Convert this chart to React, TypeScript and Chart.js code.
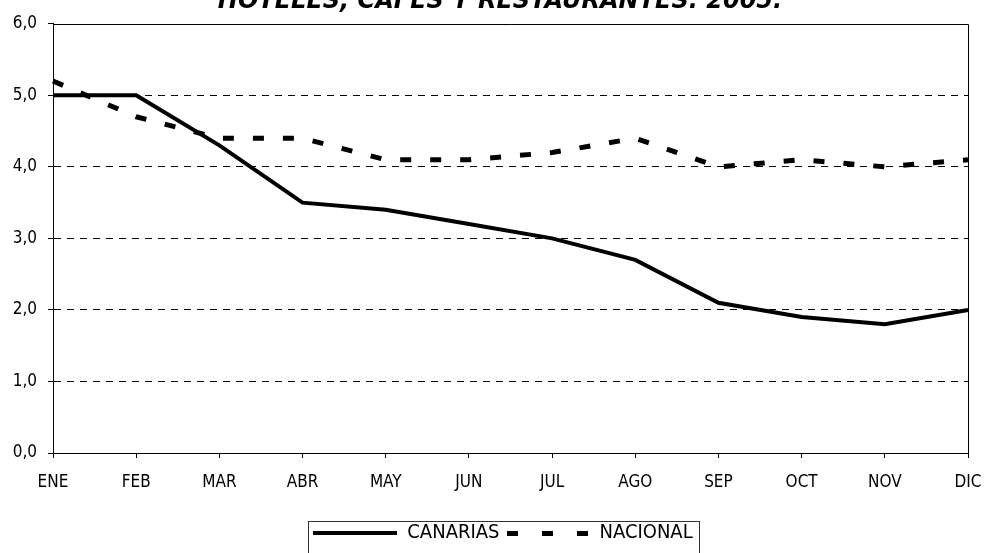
import { useEffect, useRef } from 'react';
import { Chart, registerables } from 'chart.js';
Chart.register(...registerables);

const months = ['ENE', 'FEB', 'MAR', 'ABR', 'MAY', 'JUN', 'JUL', 'AGO', 'SEP', 'OCT', 'NOV', 'DIC'];
const canarias = [5.0, 5.0, 4.3, 3.5, 3.4, 3.2, 3.0, 2.7, 2.1, 1.9, 1.8, 2.0];
const nacional = [5.2, 4.7, 4.4, 4.4, 4.1, 4.1, 4.2, 4.4, 4.0, 4.1, 4.0, 4.1];
const yTicks = [0, 1, 2, 3, 4, 5, 6];
const seriesNames = ['CANARIAS', 'NACIONAL'];
const titleText = 'HOTELES, CAFES Y RESTAURANTES. 2005.';

const FONT = '"DejaVu Sans Condensed", "DejaVu Sans", sans-serif';

function makeSample(dashed: boolean): HTMLCanvasElement {
  const c = document.createElement('canvas');
  c.width = dashed ? 81 : 84;
  c.height = dashed ? 5 : 4;
  const g = c.getContext('2d')!;
  g.fillStyle = '#000';
  if (dashed) {
    for (let i = 0; i < 3; i++) g.fillRect(i * 35, 0, 11, 5);
  } else {
    g.fillRect(0, 0, 84, 4);
  }
  return c;
}

const framePlugin = {
  id: 'frame',
  afterLayout(chart: any) {
    const lg = chart.legend;
    if (lg) {
      lg.left += 19;
      lg.right += 19;
    }
    const tb = chart.titleBlock;
    if (tb) {
      tb.left += 16;
      tb.right += 16;
    }
  },
  beforeDatasetsDraw(chart: any) {
    const { ctx, chartArea: a } = chart;
    ctx.save();
    ctx.strokeStyle = '#000';
    ctx.lineWidth = 1;
    ctx.setLineDash([]);
    ctx.beginPath();
    ctx.moveTo(a.left, Math.round(a.top) + 0.5);
    ctx.lineTo(Math.round(a.right) + 0.5, Math.round(a.top) + 0.5);
    ctx.lineTo(Math.round(a.right) + 0.5, a.bottom);
    ctx.stroke();
    ctx.restore();
  },
};

const legendBoxPlugin = {
  id: 'legendBox',
  afterDraw(chart: any) {
    const lg = chart.legend;
    if (!lg || !lg.legendHitBoxes || !lg.legendHitBoxes.length) return;
    const hb = lg.legendHitBoxes;
    const l = hb[0].left - 5;
    const last = hb[hb.length - 1];
    const r = last.left + last.width + 7;
    const t = lg.top + 4;
    const { ctx } = chart;
    ctx.save();
    ctx.strokeStyle = '#333';
    ctx.lineWidth = 1;
    ctx.setLineDash([]);
    ctx.strokeRect(Math.round(l) + 0.5, Math.round(t) + 0.5, Math.round(r - l), 80);
    ctx.restore();
  },
};

export default function App() {
  const ref = useRef<HTMLCanvasElement>(null);
  useEffect(() => {
    if (!ref.current) return;
    Chart.defaults.color = '#000';
    const samples = [makeSample(false), makeSample(true)];
    const chart = new Chart(ref.current, {
      type: 'line',
      data: {
        labels: months,
        datasets: [
          {
            label: seriesNames[0],
            data: canarias,
            borderColor: '#000',
            backgroundColor: '#000',
            borderWidth: 4,
            pointRadius: 0,
            tension: 0,
            fill: false,
          },
          {
            label: seriesNames[1],
            data: nacional,
            borderColor: '#000',
            backgroundColor: '#000',
            borderWidth: 5,
            borderDash: [11, 19],
            pointRadius: 0,
            tension: 0,
            fill: false,
          },
        ],
      },
      options: {
        animation: false,
        responsive: true,
        maintainAspectRatio: false,
        layout: { padding: { left: 0, right: 17, top: 0, bottom: 0 } },
        plugins: {
          tooltip: { enabled: false },
          title: {
            display: true,
            text: titleText,
            color: '#000',
            font: { family: '"DejaVu Sans", sans-serif', size: 24, weight: 'bold', style: 'italic' },
            padding: { top: 7, bottom: 8 },
          },
          legend: {
            display: true,
            position: 'bottom',
            labels: {
              usePointStyle: true,
              pointStyleWidth: 84,
              color: '#000',
              font: { family: FONT, size: 20 },
              padding: 6,
              generateLabels: (ch: any) => {
                const items = (Chart.defaults.plugins.legend.labels as any).generateLabels(ch);
                return items.map((it: any, i: number) => ({ ...it, pointStyle: samples[i % samples.length] }));
              },
            },
          },
        },
        scales: {
          x: {
            type: 'category',
            offset: false,
            afterFit: (s: any) => {
              s.height = 64;
              s.paddingLeft = 0;
              s.paddingRight = 0;
            },
            grid: {
              drawOnChartArea: false,
              drawTicks: true,
              tickLength: 5,
              tickColor: '#000',
            },
            border: { display: true, color: '#000', width: 1 },
            ticks: {
              color: '#000',
              font: { family: FONT, size: 17 },
              padding: 14,
              maxRotation: 0,
              autoSkip: false,
            },
          },
          y: {
            min: yTicks[0],
            max: yTicks[yTicks.length - 1],
            afterBuildTicks: (s: any) => {
              s.ticks = yTicks.map((v) => ({ value: v }));
            },
            afterFit: (s: any) => {
              s.width = 53;
            },
            grid: {
              color: (c: any) =>
                c.tick && (c.tick.value === yTicks[0] || c.tick.value === yTicks[yTicks.length - 1])
                  ? 'rgba(0,0,0,0)'
                  : '#000',
              tickColor: '#000',
              tickLength: 5,
              lineWidth: 1,
            },
            border: { display: true, color: '#000', width: 1, dash: [7, 6] },
            ticks: {
              color: '#000',
              font: { family: FONT, size: 17 },
              padding: 11,
              callback: (v: any) => Number(v).toFixed(1).replace('.', ','),
            },
          },
        },
      },
      plugins: [framePlugin, legendBoxPlugin],
    } as any);
    return () => chart.destroy();
  }, []);
  return (
    <div style={{ position: 'fixed', left: 0, top: -20, width: 985, height: 573, background: '#fff' }}>
      <canvas ref={ref} />
    </div>
  );
}
